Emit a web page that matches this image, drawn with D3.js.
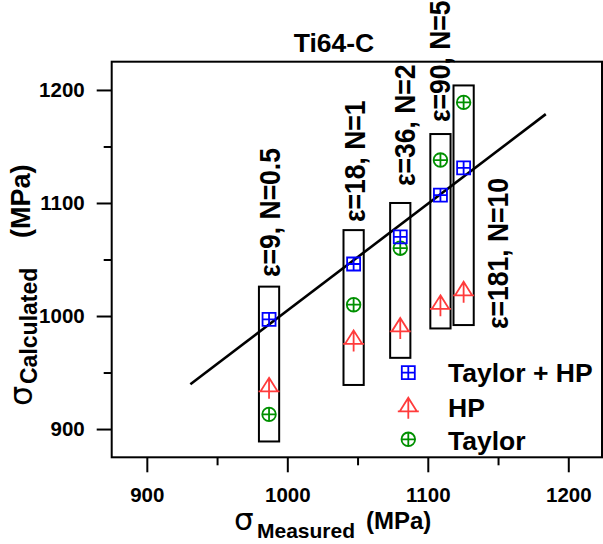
<!DOCTYPE html>
<html><head><meta charset="utf-8">
<script src="https://cdn.jsdelivr.net/npm/d3@7"></script>
<style>body{margin:0;background:#fff}svg{display:block;font-family:"Liberation Sans",Arial,sans-serif;font-weight:bold}</style>
</head><body><svg id="c" width="603" height="544"></svg>
<script>
// ---- data ----
const measured = [987, 1047.2, 1080.4, 1109, 1125.5];
const taylorHP = [997, 1046, 1070, 1107, 1131];
const hp       = [936, 978, 989, 1009, 1021];
const taylor   = [913, 1010, 1060, 1138, 1189];
const boxLow   = [889, 939, 963, 989, 992];
const boxHigh  = [1026, 1076, 1100, 1161, 1204];
const boxHalf  = 7.2;
const fitX = [931, 1184];
const fitY = [939.6, 1178.6];
const labels = ["ε=9, N=0.5", "ε=18, N=1", "ε=36, N=2", "ε=90, N=5", "ε=181, N=10"];
const labelX = [994.8, 1055.4, 1091, 1115.8, 1157];
const labelY = [1034.5, 1083.1, 1115, 1171.6, 988.5];
const xTicks = [900, 1000, 1100, 1200], xMinor = [950, 1050, 1150];
const yTicks = [900, 1000, 1100, 1200], yMinor = [950, 1050, 1150];
const legendNames = ["Taylor + HP", "HP", "Taylor"];
const title = "Ti64-C";

// ---- layout ----
const L = 111.7, R = 602, T = 61.7, B = 457.3;
const x = d3.scaleLinear().domain([875, 1224]).range([L, R]);
const y = d3.scaleLinear().domain([875, 1225]).range([B, T]);
const svg = d3.select("#c");
const BLUE = "#0000ff", RED = "#ff3b3b", GREEN = "#009000";
const FONT = '"Liberation Sans",Arial,sans-serif';

const markers = {
  sq:  {path: "M-6.5,-6.5h13v13h-13z M0,-6.5v13 M-6.5,0h13", color: BLUE},
  tri: {path: "M0,-10.5 L8.5,3 L-8.5,3 Z M-10.5,3 H10.5 M0,-10.5 V10.5", color: RED},
  cir: {path: "M-6.8,0 A6.8,6.8 0 1,0 6.8,0 A6.8,6.8 0 1,0 -6.8,0 Z M-6.8,0 H6.8 M0,-6.8 V6.8", color: GREEN}
};

// axes
const xAx = svg.append("g").attr("transform", `translate(0,${B})`)
  .call(d3.axisBottom(x).tickValues(xTicks).tickSize(15).tickPadding(15).tickFormat(d3.format("d")));
const xAxm = svg.append("g").attr("transform", `translate(0,${B})`)
  .call(d3.axisBottom(x).tickValues(xMinor).tickSize(8).tickFormat(""));
const yAx = svg.append("g").attr("transform", `translate(${L},0)`)
  .call(d3.axisLeft(y).tickValues(yTicks).tickSize(15).tickPadding(12).tickFormat(d3.format("d")));
const yAxm = svg.append("g").attr("transform", `translate(${L},0)`)
  .call(d3.axisLeft(y).tickValues(yMinor).tickSize(8).tickFormat(""));
[xAx, xAxm, yAx, yAxm].forEach(a => {
  a.select(".domain").remove();
  a.selectAll("line").attr("stroke", "#000").attr("stroke-width", 2);
  a.selectAll("text").attr("font-size", 20.5).attr("font-weight", "bold")
    .attr("font-family", FONT).attr("fill", "#000");
});

// frame
svg.append("rect").attr("x", L).attr("y", T).attr("width", R - L).attr("height", B - T)
  .attr("fill", "none").attr("stroke", "#000").attr("stroke-width", 2);

// fit line
svg.append("line").attr("x1", x(fitX[0])).attr("y1", y(fitY[0]))
  .attr("x2", x(fitX[1])).attr("y2", y(fitY[1]))
  .attr("stroke", "#000").attr("stroke-width", 2.6);

// boxes
measured.forEach((m, i) => {
  svg.append("rect").attr("x", x(m - boxHalf)).attr("y", y(boxHigh[i]))
    .attr("width", x(m + boxHalf) - x(m - boxHalf)).attr("height", y(boxLow[i]) - y(boxHigh[i]))
    .attr("fill", "none").attr("stroke", "#000").attr("stroke-width", 2);
});

function drawMarker(key, px, py) {
  const mk = markers[key];
  svg.append("path").attr("d", mk.path).attr("transform", `translate(${px},${py})`)
    .attr("fill", "none").attr("stroke", mk.color).attr("stroke-width", 1.8);
}
measured.forEach((m, i) => {
  drawMarker("tri", x(m), y(hp[i]));
  drawMarker("cir", x(m), y(taylor[i]));
  drawMarker("sq", x(m), y(taylorHP[i]));
});

// rotated labels
labels.forEach((t, i) => {
  svg.append("text").attr("transform", `translate(${x(labelX[i])},${y(labelY[i])}) scale(1.08,1) rotate(-90)`)
    .attr("font-size", 26.5).attr("fill", "#000").text(t);
});

// legend
const legKeys = ["sq", "tri", "cir"];
const legY = [372.7, 408.3, 439.3];
const legBase = [382, 416.7, 450];
legendNames.forEach((n, i) => {
  drawMarker(legKeys[i], 408.3, legY[i]);
  svg.append("text").attr("x", 448).attr("y", legBase[i]).attr("font-size", 26.5).attr("fill", "#000").text(n);
});

// title
svg.append("text").attr("x", 334).attr("y", 52).attr("text-anchor", "middle")
  .attr("font-size", 26.5).attr("fill", "#000").text(title);

// x title
svg.append("text").attr("x", 234).attr("y", 530).attr("font-size", 31).attr("font-weight", "normal")
  .attr("font-family", '"DejaVu Sans",sans-serif').attr("fill", "#000").text("σ");
svg.append("text").attr("x", 257).attr("y", 538).attr("font-size", 21).attr("fill", "#000").text("Measured");
svg.append("text").attr("x", 366).attr("y", 529).attr("font-size", 24).attr("fill", "#000").text("(MPa)");

// y title
svg.append("text").attr("transform", "translate(32,406) rotate(-90)").attr("font-size", 32)
  .attr("font-weight", "normal").attr("font-family", '"DejaVu Sans",sans-serif').attr("fill", "#000").text("σ");
svg.append("text").attr("transform", "translate(37,384) rotate(-90)").attr("font-size", 23)
  .attr("fill", "#000").text("Calculated");
svg.append("text").attr("transform", "translate(30,238) rotate(-90)").attr("font-size", 27)
  .attr("fill", "#000").text("(MPa)");
</script></body></html>
